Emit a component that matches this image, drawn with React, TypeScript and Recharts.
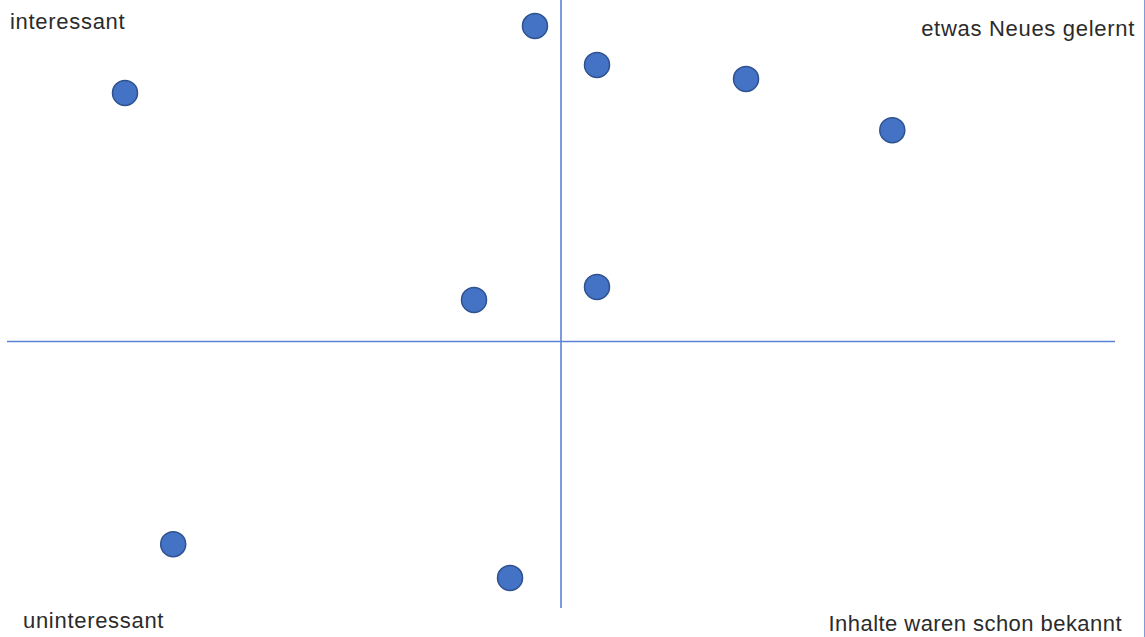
import { ScatterChart, Scatter, XAxis, YAxis, ReferenceLine } from "recharts";

// x: "Inhalte waren schon bekannt" (-) ... "etwas Neues gelernt" (+)
// y: "uninteressant" (-) ... "interessant" (+)
const xValues = [-7.87, -0.47, 0.65, 3.34, 5.98, -1.57, 0.65, -7.0, -0.92];
const yValues = [7.28, 9.24, 8.1, 7.69, 6.19, 1.22, 1.6, -5.93, -6.92];

const quadrantLabels = {
	topLeft: "interessant",
	topRight: "etwas Neues gelernt",
	bottomLeft: "uninteressant",
	bottomRight: "Inhalte waren schon bekannt",
};

const points = xValues.map((x, i) => ({ x, y: yValues[i] }));

const LINE_COLOR = "#5b82d6";
const LABEL_STYLE = {
	fontFamily: "'Liberation Sans', Arial, sans-serif",
	fontSize: 22,
	letterSpacing: 0.7,
	fill: "#2b2b2b",
};

type DotProps = { cx?: number; cy?: number };

function renderDot({ cx, cy }: DotProps) {
	if (typeof cx !== "number" || typeof cy !== "number") {
		return null;
	}
	return (
		<circle cx={cx} cy={cy} r={12.5} fill="#4472c4" stroke="#2f528f" strokeWidth={1.5} />
	);
}

export default function App() {
	return (
		<div
			style={{
				position: "absolute",
				left: 0,
				top: 0,
				width: 1144,
				height: 637,
				borderRight: "1px solid #7f9cd6",
				background: "#fff",
			}}
		>
			<ScatterChart
				width={1145}
				height={637}
				margin={{ top: 0, right: 30, bottom: 29, left: 7 }}
			>
				<XAxis type="number" dataKey="x" domain={[-10, 10]} hide />
				<YAxis type="number" dataKey="y" domain={[-7.8, 10]} hide />
				<ReferenceLine x={0} stroke={LINE_COLOR} strokeWidth={1.6} />
				<ReferenceLine y={0} stroke={LINE_COLOR} strokeWidth={1.6} />
				<Scatter data={points} shape={renderDot} isAnimationActive={false} />
				<text x={10} y={29} textAnchor="start" style={LABEL_STYLE}>
					{quadrantLabels.topLeft}
				</text>
				<text x={1135} y={36} textAnchor="end" style={LABEL_STYLE}>
					{quadrantLabels.topRight}
				</text>
				<text x={23} y={628} textAnchor="start" style={LABEL_STYLE}>
					{quadrantLabels.bottomLeft}
				</text>
				<text
					x={1122}
					y={631}
					textAnchor="end"
					style={{ ...LABEL_STYLE, letterSpacing: 0.45 }}
				>
					{quadrantLabels.bottomRight}
				</text>
			</ScatterChart>
		</div>
	);
}
